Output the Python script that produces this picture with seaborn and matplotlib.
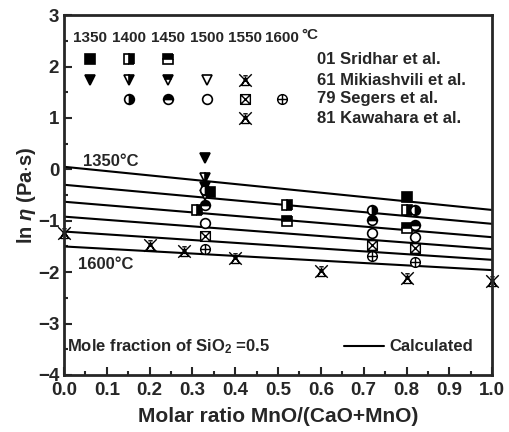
import numpy as np
import pandas as pd
import matplotlib
matplotlib.use('Agg')
import matplotlib.pyplot as plt
from matplotlib.path import Path
from matplotlib.lines import Line2D
import seaborn as sns

# calculated lines (ln eta at x=0 and x=1)
temps = [1350, 1400, 1450, 1500, 1550, 1600]
calc_x = [0.0, 1.0]
calc_y = {1350: [0.05, -0.79], 1400: [-0.30, -1.06], 1450: [-0.63, -1.32],
          1500: [-0.92, -1.55], 1550: [-1.21, -1.76], 1600: [-1.50, -1.96]}

# 01 Sridhar et al.
sri_x = {1350: [0.34, 0.80], 1400: [0.31, 0.52, 0.80], 1450: [0.52, 0.80]}
sri_y = {1350: [-0.45, -0.53], 1400: [-0.80, -0.69, -0.79], 1450: [-1.00, -1.14]}

# 61 Mikiashvili et al.
mik_x = {1350: [0.33], 1400: [0.33], 1450: [0.33], 1500: [0.33]}
mik_y = {1350: [0.22], 1400: [-0.17], 1450: [-0.35], 1500: [-0.50]}

# 79 Segers et al.
seg_x = [0.33, 0.72, 0.82]
seg_y = {1400: [-0.40, -0.79, -0.79], 1450: [-0.69, -0.98, -1.08],
         1500: [-1.05, -1.24, -1.31], 1550: [-1.29, -1.47, -1.53],
         1600: [-1.55, -1.68, -1.80]}

# 81 Kawahara et al. (1550 C)
kaw_x = [0.0, 0.20, 0.28, 0.40, 0.60, 0.80, 1.0]
kaw_y = [-1.24, -1.47, -1.59, -1.72, -1.97, -2.12, -2.18]

studies = ['01 Sridhar et al.', '61 Mikiashvili et al.', '79 Segers et al.', '81 Kawahara et al.']

# custom markers
M, L, C = Path.MOVETO, Path.LINETO, Path.CLOSEPOLY
box_x = Path([(-1, -1), (1, -1), (1, 1), (-1, 1), (-1, -1),
              (-1, -1), (1, 1), (-1, 1), (1, -1)],
             [M, L, L, L, C, M, L, M, L])
circ = Path.unit_circle()
plus = Path([(-1, 0), (1, 0), (0, -1), (0, 1)], [M, L, M, L])
circ_plus = Path.make_compound_path(circ, plus)
xtri = Path([(-1, -1), (1, 1), (-1, 1), (1, -1),
             (-0.6, -0.8), (0.6, -0.8), (0, 0.5), (-0.6, -0.8),
             (-0.35, 0.75), (0.35, 0.75)],
            [M, L, M, L, M, L, L, C, M, L])

fill_of = {1350: 'full', 1400: 'right', 1450: 'top', 1500: 'none'}


def style(base, t):
    if base == 'o' and t == 1550:
        return dict(marker=box_x, markersize=7, mfc='white', mec='k', mew=1)
    if base == 'o' and t == 1600:
        return dict(marker=circ_plus, markersize=7, mfc='white', mec='k', mew=1)
    if base == 'k':
        return dict(marker=xtri, markersize=9, mfc='none', mec='k', mew=1)
    fs = fill_of[t]
    if fs == 'none':
        return dict(marker=base, markersize=7, mfc='white', mec='k', mew=1.2)
    return dict(marker=base, markersize=7, fillstyle=fs, mfc='k',
                mfcalt='white', mec='k', mew=1.2)


sns.set_style('ticks')
plt.rcParams['font.family'] = ['Liberation Sans', 'DejaVu Sans']
plt.rcParams['font.weight'] = 'bold'
plt.rcParams['mathtext.fontset'] = 'custom'
plt.rcParams['mathtext.rm'] = 'Liberation Sans:bold'
plt.rcParams['mathtext.it'] = 'Liberation Sans:italic'
plt.rcParams['mathtext.default'] = 'rm'

fig = plt.figure(figsize=(5.1, 4.32), dpi=100)
ax = fig.add_axes([0.1255, 0.132, 0.8395, 0.833])

lines = pd.DataFrame([(t, x, y) for t in temps for x, y in zip(calc_x, calc_y[t])],
                     columns=['T', 'x', 'y'])
sns.lineplot(data=lines, x='x', y='y', units='T', estimator=None,
             color='k', lw=1.5, ax=ax, legend=False)

for t in sri_x:
    ax.plot(sri_x[t], sri_y[t], ls='none', **style('s', t))
for t in mik_x:
    ax.plot(mik_x[t], mik_y[t], ls='none', **style('v', t))
for t in seg_y:
    ax.plot(seg_x, seg_y[t], ls='none', **style('o', t))
ax.plot(kaw_x, kaw_y, ls='none', clip_on=False, **style('k', 1550))

# symbol key at top
col_x = [0.061, 0.152, 0.243, 0.334, 0.423, 0.509]
row_y = [0.878, 0.819, 0.767, 0.714]
key = [('s', [1350, 1400, 1450]), ('v', [1350, 1400, 1450, 1500]),
       ('o', [1400, 1450, 1500, 1550, 1600]), ('k', [1550])]
for i, (base, ts) in enumerate(key):
    for t in ts:
        ax.plot([col_x[temps.index(t)]], [row_y[i]], transform=ax.transAxes,
                ls='none', **style(base, t))
ax.plot([col_x[4]], [row_y[1]], transform=ax.transAxes, ls='none', **style('k', 1550))
for cx, t in zip(col_x, temps):
    ax.text(cx, 0.936, str(t), transform=ax.transAxes, ha='center', va='center',
            fontsize=11, fontweight='bold')
ax.text(col_x[-1] + 0.046, 0.945, '°C', transform=ax.transAxes, ha='left',
        va='center', fontsize=11, fontweight='bold')
for ry, s in zip(row_y, studies):
    ax.text(0.591, ry, s, transform=ax.transAxes, ha='left', va='center',
            fontsize=12, fontweight='bold')

ax.text(0.044, 0.592, '1350°C', transform=ax.transAxes, fontsize=12,
        fontweight='bold', va='center')
ax.text(0.033, 0.306, '1600°C', transform=ax.transAxes, fontsize=12,
        fontweight='bold', va='center')
ax.text(0.008, 0.078, 'Mole fraction of SiO$_2$ =0.5', transform=ax.transAxes,
        fontsize=12, fontweight='bold', va='center')
ax.legend(handles=[Line2D([], [], color='k', lw=1.5)], labels=['Calculated'],
          loc='center right', bbox_to_anchor=(0.955, 0.078), frameon=False,
          handlelength=2.4, handletextpad=0.3, borderpad=0, borderaxespad=0,
          prop=dict(size=12, weight='bold'))

ax.set_xlim(0, 1)
ax.set_ylim(-4, 3)
ax.set_xticks(np.arange(0, 1.01, 0.1))
ax.set_xticks(np.arange(0.05, 1.0, 0.1), minor=True)
ax.set_yticks(np.arange(-4, 3.1, 1))
ax.set_yticks(np.arange(-3.5, 3.0, 1), minor=True)
ax.set_xticklabels([f'{v:.1f}' for v in np.arange(0, 1.01, 0.1)])
ax.tick_params(axis='both', which='major', direction='in', length=6, width=1.5,
               labelsize=13.5, top=False, right=False)
ax.tick_params(axis='x', which='major', pad=5)
ax.tick_params(axis='both', which='minor', direction='in', length=3, width=1.5,
               top=False, right=False)
for lab in ax.get_xticklabels() + ax.get_yticklabels():
    lab.set_fontweight('bold')
for sp in ax.spines.values():
    sp.set_linewidth(2)
ax.set_xlabel('Molar ratio MnO/(CaO+MnO)', fontsize=15, fontweight='bold', labelpad=6)
ax.set_ylabel(r'ln $\mathit{\eta}$ (Pa$\cdot$s)', fontsize=14.5, fontweight='bold',
              labelpad=0)

fig.savefig('out.png', dpi=100)
